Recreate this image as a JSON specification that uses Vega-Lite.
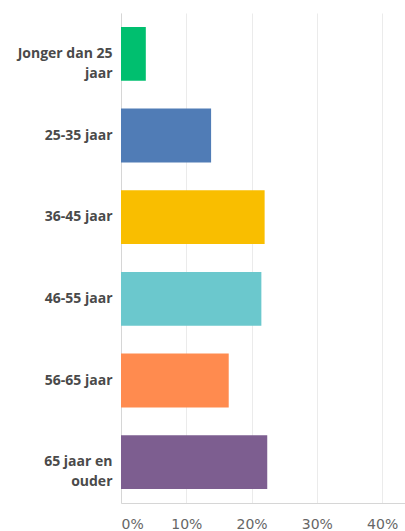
{
  "$schema": "https://vega.github.io/schema/vega-lite/v6.json",
  "autosize": "none",
  "width": 284,
  "height": 490,
  "padding": {"left": 121, "top": 13, "right": 0, "bottom": 28},
  "background": "white",
  "data": {
    "values": [
      {"leeftijd": "Jonger dan 25 jaar", "pct": 3.8},
      {"leeftijd": "25-35 jaar", "pct": 13.8},
      {"leeftijd": "36-45 jaar", "pct": 22.0},
      {"leeftijd": "46-55 jaar", "pct": 21.5},
      {"leeftijd": "56-65 jaar", "pct": 16.5},
      {"leeftijd": "65 jaar en ouder", "pct": 22.4}
    ]
  },
  "mark": {"type": "bar"},
  "encoding": {
    "y": {
      "field": "leeftijd",
      "type": "nominal",
      "sort": null,
      "scale": {"paddingInner": 0.34, "paddingOuter": 0.17},
      "axis": {
        "title": null,
        "ticks": false,
        "domain": true,
        "domainColor": "#d6d6d6",
        "labelPadding": 9,
        "labelFont": "Open Sans",
        "labelFontWeight": "bold",
        "labelFontSize": 14,
        "labelColor": "#4a4a4a",
        "labelLineHeight": 20,
        "labelLimit": 200,
        "labelExpr": "datum.label == 'Jonger dan 25 jaar' ? ['Jonger dan 25', 'jaar'] : datum.label == '65 jaar en ouder' ? ['65 jaar en', 'ouder'] : datum.label"
      }
    },
    "x": {
      "field": "pct",
      "type": "quantitative",
      "scale": {"domain": [0, 43.5], "nice": false},
      "axis": {
        "title": null,
        "values": [0, 10, 20, 30, 40],
        "ticks": false,
        "grid": true,
        "gridColor": "#ebebeb",
        "domainColor": "#d6d6d6",
        "labelPadding": 14,
        "labelFont": "DejaVu Sans",
        "labelFontSize": 14,
        "labelColor": "#666666",
        "labelAlign": {"condition": {"test": "datum.value == 0", "value": "left"}, "value": "center"},
        "labelExpr": "datum.value + '%'"
      }
    },
    "color": {
      "field": "leeftijd",
      "type": "nominal",
      "legend": null,
      "scale": {
        "domain": ["Jonger dan 25 jaar", "25-35 jaar", "36-45 jaar", "46-55 jaar", "56-65 jaar", "65 jaar en ouder"],
        "range": ["#00bf6f", "#507cb6", "#f9be00", "#6bc8cd", "#ff8b4f", "#7d5e90"]
      }
    }
  },
  "config": {"view": {"stroke": null}}
}
